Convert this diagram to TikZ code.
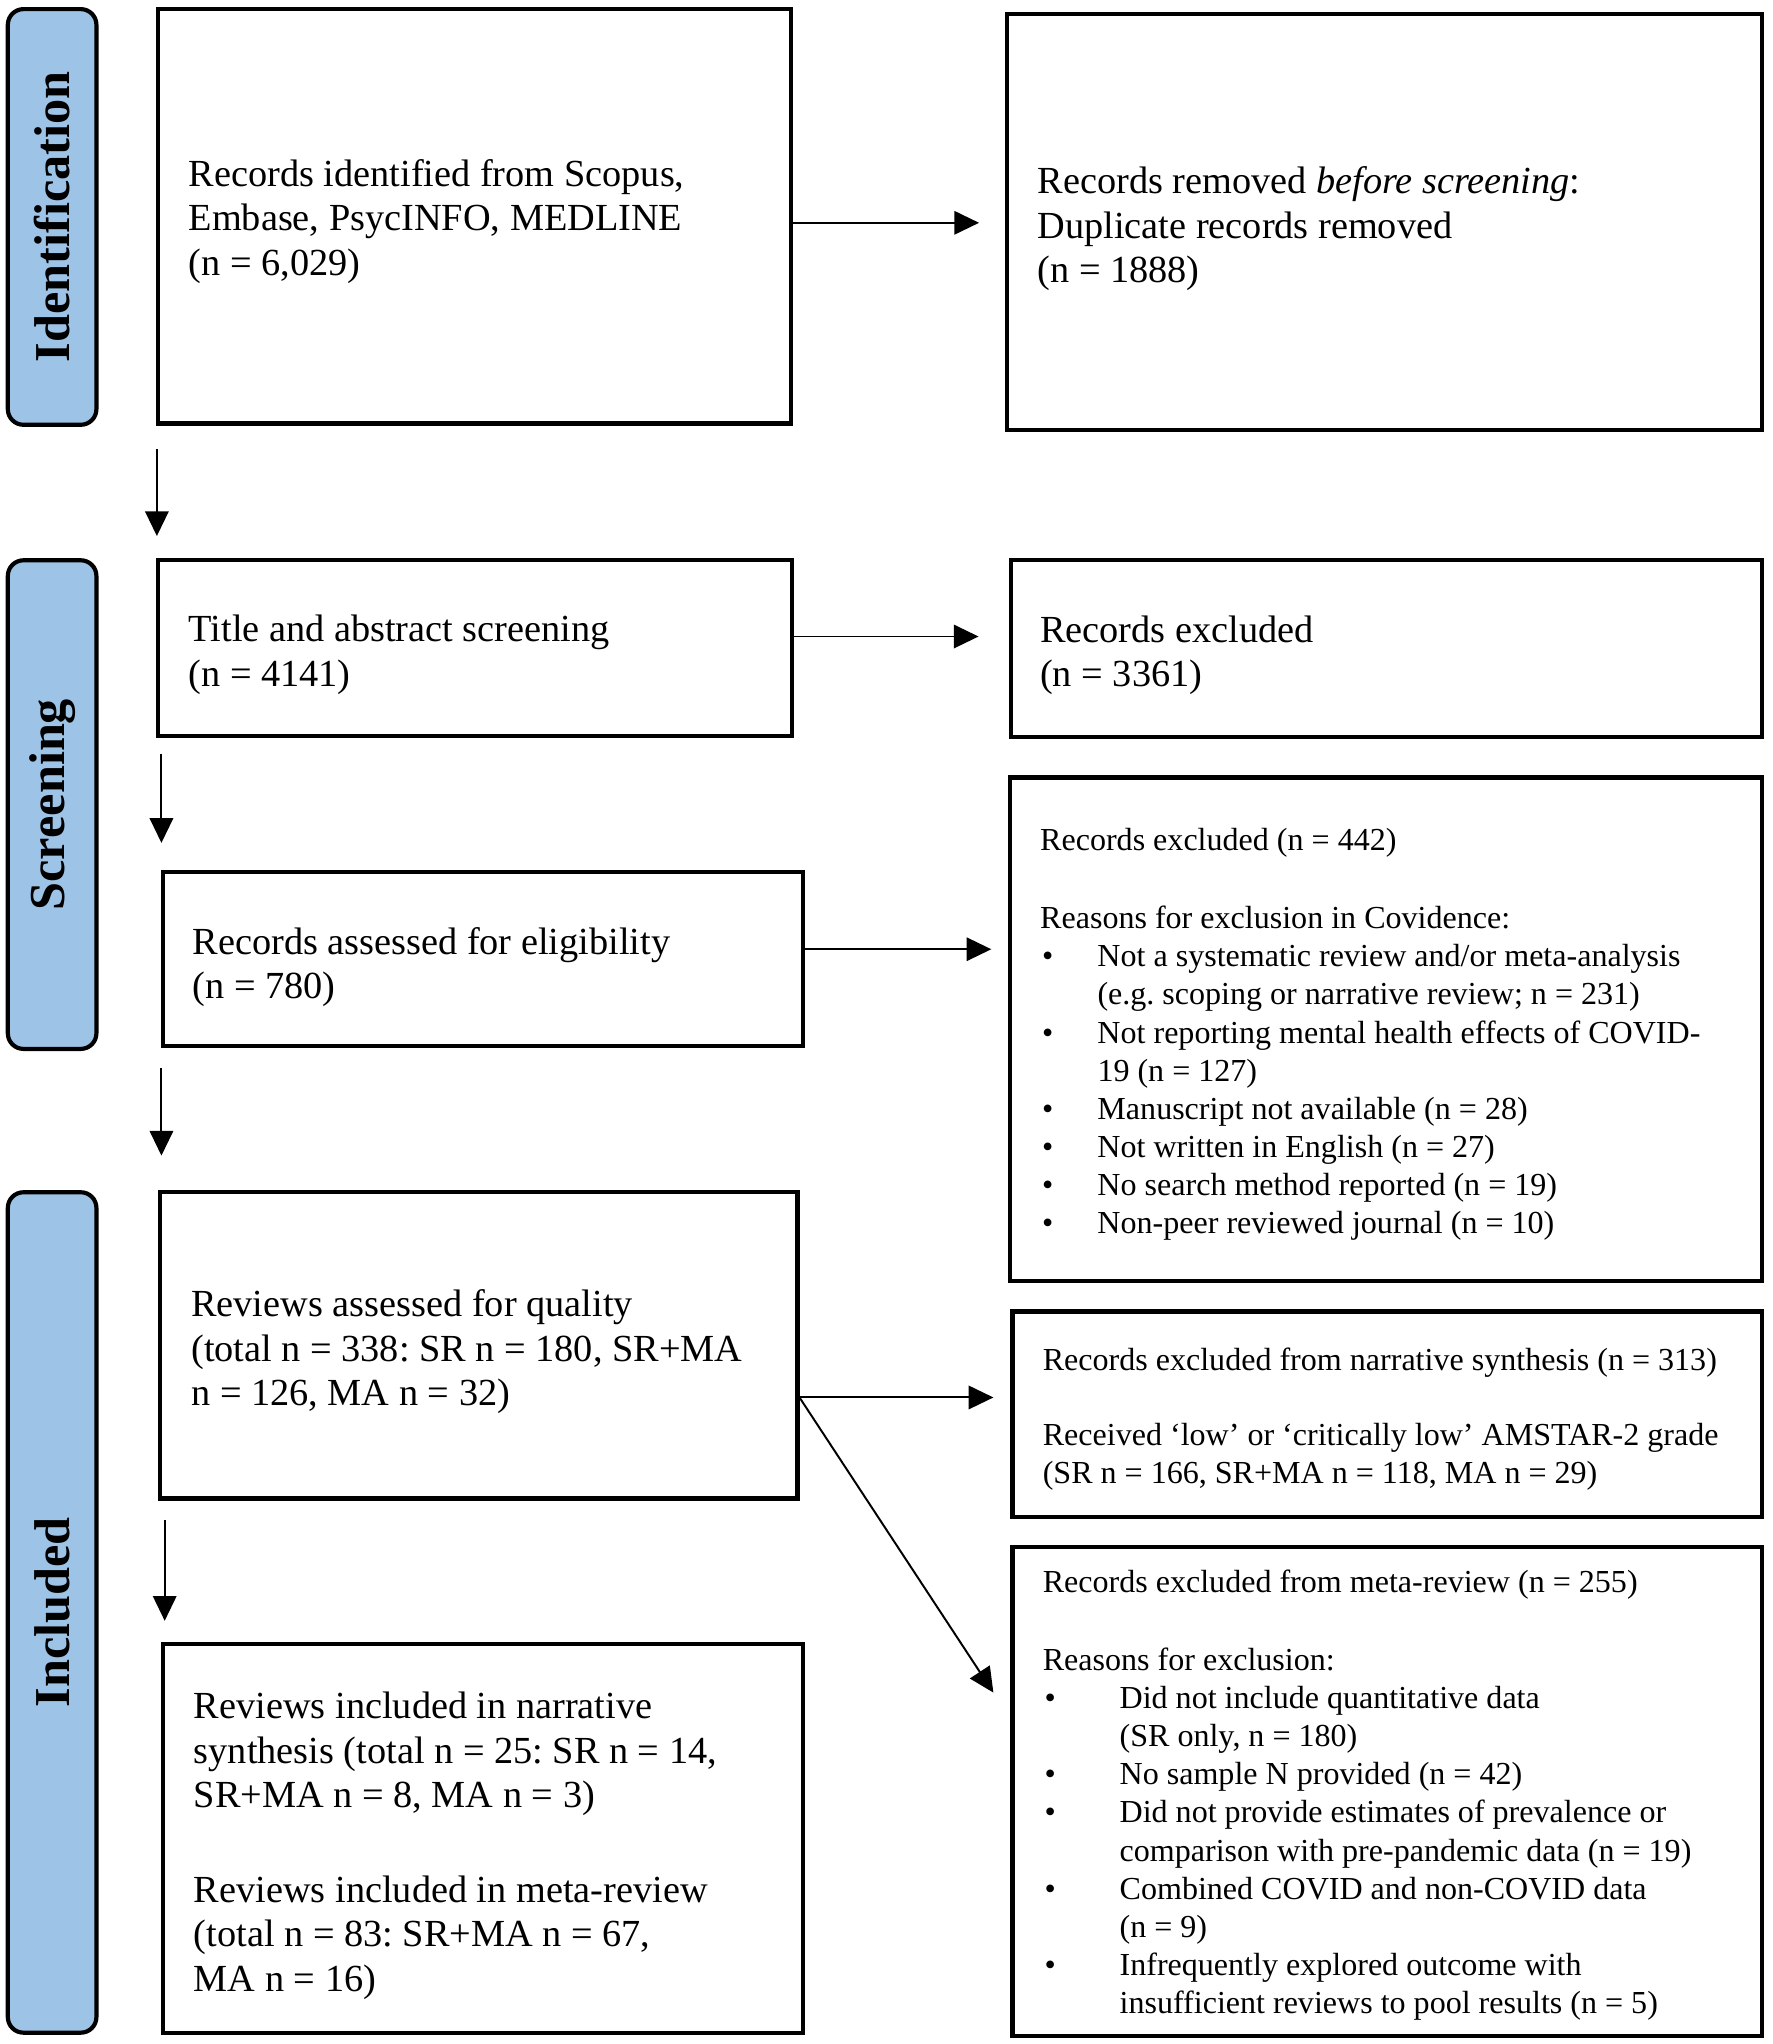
\documentclass[tikz,border=0pt]{standalone}
\usepackage{fontspec}
\setmainfont{Liberation Serif}
\usetikzlibrary{arrows.meta,calc}
\setlength{\parindent}{0pt}
\setlength{\parskip}{0pt}
\frenchspacing
\definecolor{pillblue}{HTML}{9DC3E6}
\newcommand{\bul}[1]{\makebox[#1][l]{\hspace{0.7pt}\textbullet}}
\begin{document}
\begin{tikzpicture}[x=0.5pt,y=-0.5pt,
  box/.style={draw, line width=1.6pt, inner sep=0pt},
  pill/.style={draw, line width=1.6pt, fill=pillblue, rounded corners=6pt, inner sep=0pt, rotate=90,
    font=\fontsize{19.3}{22}\selectfont\bfseries},
  txt/.style={inner sep=0pt, anchor=west, align=flush left, text width=300pt, font=\fontsize{14.7}{17}\selectfont\frenchspacing},
  stxt/.style={txt, font=\fontsize{12.3}{14.65}\selectfont\frenchspacing},
  arr/.style={line width=0.75pt, -{Triangle[length=9.5pt,width=9pt]}}]
\useasboundingbox (0,0) rectangle (1360,1568.7);

% phase pills
\node[pill, minimum width=159.5pt, minimum height=34pt] (pid) at (40,166.5) {Identification};
\node[pill, minimum width=187.5pt, minimum height=34pt] (psc) at (40,617.5) {Screening};
\node[pill, minimum width=322.5pt, minimum height=34pt] (pin) at (40,1237.5) {Included};

% left column
\node[box, minimum width=243pt, minimum height=159pt] (b1) at (364,166) {};
\node[txt] (t1) at ($(b1.west)+(25,4)$) {Records identified from Scopus,\\Embase, PsycINFO, MEDLINE\\(n = 6,029)};

\node[box, minimum width=243.5pt, minimum height=67.5pt] (b2) at (364.5,497.5) {};
\node[txt] (t2) at ($(b2.west)+(25,5)$) {Title and abstract screening\\(n = 4141)};

\node[box, minimum width=245.5pt, minimum height=67pt] (b3) at (370.5,736) {};
\node[txt] (t3) at ($(b3.west)+(24,6)$) {Records assessed for eligibility\\(n = 780)};

\node[box, minimum width=244.5pt, minimum height=117.5pt] (b4) at (367.5,1032.5) {};
\node[txt] (t4) at ($(b4.west)+(25,5)$) {Reviews assessed for quality\\(total n = 338: SR n = 180, SR+MA\\n = 126, MA n = 32)};

\node[box, minimum width=245.5pt, minimum height=149pt] (b5) at (370.5,1411) {};
\node[txt] (t5) at ($(b5.west)+(25,5.5)$) {Reviews included in narrative\\synthesis (total n = 25: SR n = 14,\\SR+MA n = 8, MA n = 3)\\[19.5pt]Reviews included in meta-review\\(total n = 83: SR+MA n = 67,\\MA n = 16)};

% right column
\node[box, minimum width=289.5pt, minimum height=159.5pt] (r1) at (1062.5,170.5) {};
\node[txt] (u1) at ($(r1.west)+(24.5,5)$) {Records removed \emph{before screening}:\\Duplicate records removed\\(n = 1888)};

\node[box, minimum width=288pt, minimum height=68pt] (r2) at (1064,497.5) {};
\node[txt] (u2) at ($(r2.west)+(23.5,5.5)$) {Records excluded\\(n = 3361)};

\node[box, minimum width=288.5pt, minimum height=193.3pt] (r3) at (1063.5,790) {};
\node[stxt] (u3) at ($(r3.west)+(24.5,4)$) {Records excluded (n = 442)\\[15.25pt]
Reasons for exclusion in Covidence:\\
\bul{22pt}Not a systematic review and/or meta-analysis\\
\hspace*{22pt}(e.g. scoping or narrative review; n = 231)\\
\bul{22pt}Not reporting mental health effects of COVID-\\
\hspace*{22pt}19 (n = 127)\\
\bul{22pt}Manuscript not available (n = 28)\\
\bul{22pt}Not written in English (n = 27)\\
\bul{22pt}No search method reported (n = 19)\\
\bul{22pt}Non-peer reviewed journal (n = 10)};

\node[box, minimum width=287.5pt, minimum height=79pt] (r4) at (1064.5,1085.5) {};
\node[stxt] (u4) at ($(r4.west)+(24.5,3.5)$) {Records excluded from narrative synthesis (n = 313)\\[14.25pt]Received ‘low’ or ‘critically low’ AMSTAR-2 grade\\(SR n = 166, SR+MA n = 118, MA n = 29)};

\node[box, minimum width=287.5pt, minimum height=187.6pt] (r5) at (1064.5,1375) {};
\node[stxt] (u5) at ($(r5.west)+(24.5,3)$) {Records excluded from meta-review (n = 255)\\[15pt]
Reasons for exclusion:\\
\bul{29.5pt}Did not include quantitative data\\
\hspace*{29.5pt}(SR only, n = 180)\\
\bul{29.5pt}No sample N provided (n = 42)\\
\bul{29.5pt}Did not provide estimates of prevalence or\\
\hspace*{29.5pt}comparison with pre-pandemic data (n = 19)\\
\bul{29.5pt}Combined COVID and non-COVID data\\
\hspace*{29.5pt}(n = 9)\\
\bul{29.5pt}Infrequently explored outcome with\\
\hspace*{29.5pt}insufficient reviews to pool results (n = 5)};

% horizontal connectors
\coordinate (a1) at ($(b1.east)+(0,5)$);
\coordinate (a2) at ($(b2.east)+(0,-9)$);
\coordinate (a3) at ($(b3.east)+(0,-7.5)$);
\coordinate (a4) at ($(b4.east)+(0,40)$);
\coordinate (d5) at ($(r5.west)+(-13,-76)$);
\draw[arr, shorten >=10pt] (a1) -- (a1 -| r1.west);
\draw[arr, shorten >=11.7pt] (a2) -- (a2 -| r2.west);
\draw[arr, shorten >=6.3pt] (a3) -- (a3 -| r3.west);
\draw[arr, shorten >=6.5pt] (a4) -- (a4 -| r4.west);
\draw[arr] (a4) -- (d5);

% vertical connectors
\coordinate (v1s) at ($(b1.south west)+(1,18)$);
\coordinate (v1e) at ($(b2.north west)+(1,-17)$);
\coordinate (v2s) at ($(b2.south west)+(4.5,12)$);
\coordinate (v2e) at ($(b3.north west)+(0.5,-20.5)$);
\coordinate (v3s) at ($(b3.south west)+(0.5,15)$);
\coordinate (v3e) at ($(b4.north west)+(2.5,-26.5)$);
\coordinate (v4s) at ($(b4.south west)+(5,15)$);
\coordinate (v4e) at ($(b5.north west)+(3,-16.5)$);
\draw[arr] (v1s) -- (v1s |- v1e);
\draw[arr] (v2s) -- (v2s |- v2e);
\draw[arr] (v3s) -- (v3s |- v3e);
\draw[arr] (v4s) -- (v4s |- v4e);
\end{tikzpicture}
\end{document}
